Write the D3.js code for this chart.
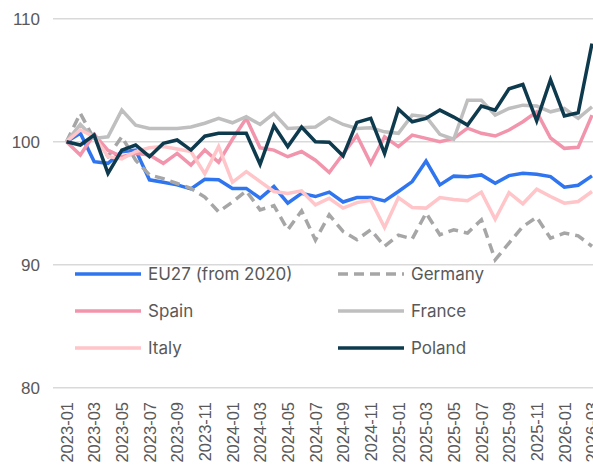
<!DOCTYPE html>
<html>
<head>
<meta charset="utf-8">
<script src="https://cdn.jsdelivr.net/npm/d3@7"></script>
<style>
	body { margin: 0; background: #fff; }
	svg { display: block; }
</style>
</head>
<body>
<svg class="chart"></svg>
<script>

// Months shown on the x axis
var months = ["2023-01", "2023-02", "2023-03", "2023-04", "2023-05", "2023-06", "2023-07", "2023-08", "2023-09", "2023-10", "2023-11", "2023-12",
	"2024-01", "2024-02", "2024-03", "2024-04", "2024-05", "2024-06", "2024-07", "2024-08", "2024-09", "2024-10", "2024-11", "2024-12",
	"2025-01", "2025-02", "2025-03", "2025-04", "2025-05", "2025-06", "2025-07", "2025-08", "2025-09", "2025-10", "2025-11", "2025-12",
	"2026-01", "2026-02", "2026-03"];

// Index values, 2023-01 = 100
var eu27 = [100, 100.68, 98.38, 98.24, 99.19, 99.32, 96.9, 96.7, 96.49, 96.16, 96.95, 96.9, 96.2, 96.2, 95.4, 96.35, 95.0, 95.8, 95.54, 95.9,
	95.1, 95.46, 95.46, 95.19, 95.95, 96.76, 98.43, 96.49, 97.2, 97.16, 97.3, 96.62, 97.24, 97.43, 97.35, 97.16, 96.3, 96.46, 97.22];
var germany = [100, 102.3, 100.2, 98.8, 100.4, 98.5, 97.3, 97.0, 96.6, 96.2, 95.5, 94.3, 95.1, 96.0, 94.46, 94.8, 92.84, 94.38, 92.0, 94.05,
	92.7, 92.03, 92.84, 91.5, 92.4, 92.1, 94.2, 92.43, 92.84, 92.57, 93.65, 90.4, 91.76, 93.1, 93.86, 92.16, 92.57, 92.35, 91.5];
var spain = [100, 98.92, 100.6, 99.3, 98.78, 99.05, 98.92, 98.24, 99.05, 98.1, 99.32, 98.32, 100.2, 101.9, 99.5, 99.32, 98.78, 99.2, 98.5, 97.5,
	99.0, 100.5, 98.24, 100.4, 99.6, 100.54, 100.27, 100.0, 100.27, 101.1, 100.68, 100.46, 100.95, 101.62, 102.43, 100.3, 99.46, 99.54, 102.16];
var france = [100, 101.4, 100.27, 100.4, 102.57, 101.35, 101.08, 101.08, 101.08, 101.2, 101.5, 101.9, 101.54, 102.03, 101.4, 102.3, 101.08, 101.13, 101.2, 101.95,
	101.4, 101.08, 101.13, 100.8, 100.68, 102.16, 102.03, 100.6, 100.2, 103.38, 103.38, 102.16, 102.7, 102.97, 102.9, 102.43, 102.7, 101.9, 102.84];
var italy = [100, 100.95, 100.4, 98.8, 98.6, 99.2, 99.5, 99.6, 99.4, 99.2, 97.4, 99.6, 96.7, 97.57, 96.76, 95.95, 95.8, 96.0, 94.86, 95.4,
	94.6, 95.05, 95.24, 93.03, 95.46, 94.65, 94.6, 95.46, 95.3, 95.2, 95.9, 93.7, 95.86, 94.95, 96.14, 95.54, 95.0, 95.14, 95.95];
var poland = [100, 99.73, 100.54, 97.43, 99.32, 99.73, 98.78, 99.86, 100.14, 99.32, 100.45, 100.68, 100.68, 100.68, 98.16, 101.3, 99.6, 101.2, 100.0, 99.95,
	98.85, 101.57, 101.9, 99.05, 102.65, 101.62, 101.9, 102.57, 102.0, 101.35, 102.9, 102.57, 104.3, 104.65, 101.7, 105.05, 102.1, 102.35, 107.97];

var seriesNames = ["EU27 (from 2020)", "Germany", "Spain", "France", "Italy", "Poland"];
var yTicks = [80, 90, 100, 110];

var series = [
	{ name: seriesNames[0], values: eu27, color: "#2e75ef", dash: null },
	{ name: seriesNames[1], values: germany, color: "#a6a6a6", dash: "10,6" },
	{ name: seriesNames[2], values: spain, color: "#f294ab", dash: null },
	{ name: seriesNames[3], values: france, color: "#bfbfbf", dash: null },
	{ name: seriesNames[4], values: italy, color: "#ffc5c8", dash: null },
	{ name: seriesNames[5], values: poland, color: "#0e3a4e", dash: null }
];

var svgWidth = 593,
	svgHeight = 468;

var chart = d3.select( ".chart" )
	.attr( "width", svgWidth )
	.attr( "height", svgHeight );

var x = d3.scalePoint()
	.domain( months )
	.range( [66.5, 592] );

var y = d3.scaleLinear()
	.domain( [80, 110] )
	.range( [387.7, 18.7] );

// gridlines
chart.append( "g" )
	.selectAll( "line" )
	.data( yTicks )
	.enter()
	.append( "line" )
	.attr( "x1", 53 )
	.attr( "x2", svgWidth )
	.attr( "y1", function(d) { return y(d); } )
	.attr( "y2", function(d) { return y(d); } )
	.attr( "stroke", "#d9d9d9" )
	.attr( "stroke-width", 1.5 );

// y axis labels
var yAxis = chart.append( "g" )
	.attr( "transform", "translate(40,0)" )
	.call( d3.axisLeft( y ).tickValues( yTicks ).tickSize( 0 ).tickPadding( 0 ) );
yAxis.select( ".domain" ).remove();
yAxis.selectAll( "text" )
	.attr( "fill", "#595959" )
	.style( "font-family", "'Liberation Sans', Arial, sans-serif" )
	.style( "font-size", "17px" );

// x axis labels, every second month
var xAxis = chart.append( "g" )
	.attr( "transform", "translate(0,402)" )
	.call( d3.axisBottom( x )
		.tickValues( months.filter( function(d, i) { return i % 2 === 0; } ) )
		.tickSize( 0 ) );
xAxis.select( ".domain" ).remove();
xAxis.selectAll( "text" )
	.attr( "fill", "#595959" )
	.style( "font-family", "'Liberation Sans', Arial, sans-serif" )
	.style( "font-size", "16.5px" )
	.attr( "text-anchor", "end" )
	.attr( "dy", "0.35em" )
	.attr( "x", 0 )
	.attr( "y", 0 )
	.attr( "transform", "rotate(-90)" );

// lines
var line = d3.line()
	.x( function(d, i) { return x( months[i] ); } )
	.y( function(d) { return y(d); } );

chart.append( "g" )
	.selectAll( "path" )
	.data( series )
	.enter()
	.append( "path" )
	.attr( "d", function(d) { return line( d.values ); } )
	.attr( "fill", "none" )
	.attr( "stroke", function(d) { return d.color; } )
	.attr( "stroke-width", 3.5 )
	.attr( "stroke-linejoin", "miter" )
	.attr( "stroke-dasharray", function(d) { return d.dash; } );

// legend, two columns
var legend = chart.append( "g" )
	.selectAll( "g" )
	.data( series )
	.enter()
	.append( "g" )
	.attr( "transform", function(d, i) {
		return "translate(" + ( i % 2 === 0 ? 75 : 338 ) + "," + ( 274 + Math.floor( i / 2 ) * 37 ) + ")";
	} );

legend.append( "line" )
	.attr( "x1", 0 )
	.attr( "x2", 66 )
	.attr( "stroke", function(d) { return d.color; } )
	.attr( "stroke-width", 3.5 )
	.attr( "stroke-dasharray", function(d) { return d.dash; } );

legend.append( "text" )
	.attr( "x", 73 )
	.attr( "dy", "0.35em" )
	.attr( "fill", "#595959" )
	.style( "font-family", "Inter, sans-serif" )
	.style( "font-size", "17px" )
	.text( function(d) { return d.name; } );

</script>
</body>
</html>
